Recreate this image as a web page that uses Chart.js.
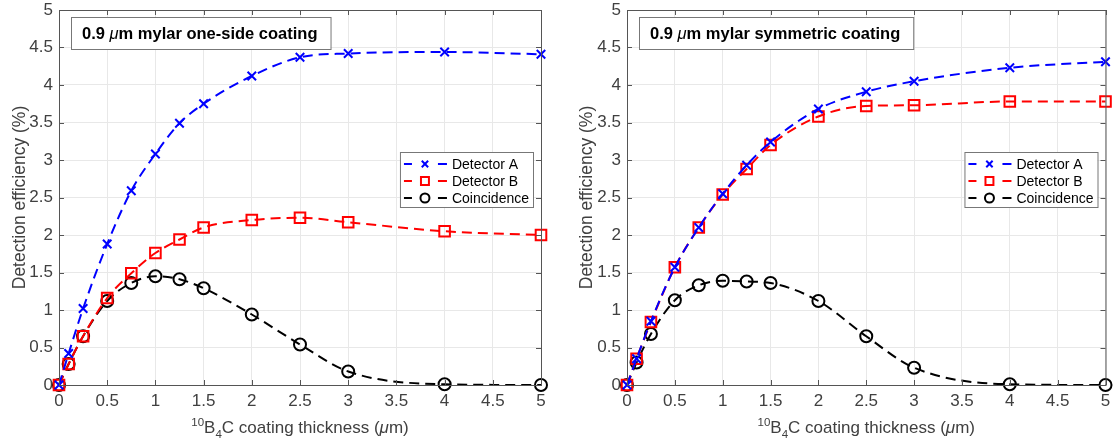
<!DOCTYPE html>
<html>
<head>
<meta charset="utf-8">
<script src="https://cdn.jsdelivr.net/npm/chart.js@4.4.1/dist/chart.umd.min.js"></script>
<style>
  html, body { margin:0; padding:0; background:#fff; }
  .panel { position:absolute; top:0; height:444px; }
  #pL { left:0; width:560px; }
  #pR { left:560px; width:555px; }
</style>
</head>
<body>
<div class="panel" id="pL"><canvas id="cL"></canvas></div>
<div class="panel" id="pR"><canvas id="cR"></canvas></div>
<script>
// thickness of 10B4C coating (um)
const thickness = [0, 0.1, 0.25, 0.5, 0.75, 1, 1.25, 1.5, 2, 2.5, 3, 4, 5];

// one-side coating
const oneA = [0, 0.42, 1.02, 1.88, 2.59, 3.08, 3.49, 3.75, 4.12, 4.37, 4.42, 4.44, 4.41];
const oneB = [0, 0.28, 0.65, 1.16, 1.49, 1.76, 1.94, 2.10, 2.20, 2.23, 2.17, 2.05, 2.00];
const oneC = [0, 0.28, 0.65, 1.12, 1.36, 1.45, 1.41, 1.29, 0.94, 0.54, 0.18, 0.01, 0.00];

// symmetric coating
const symA = [0, 0.35, 0.85, 1.57, 2.10, 2.55, 2.93, 3.24, 3.68, 3.91, 4.05, 4.23, 4.31];
const symB = [0, 0.35, 0.84, 1.57, 2.10, 2.54, 2.88, 3.20, 3.58, 3.72, 3.73, 3.78, 3.78];
const symC = [0, 0.30, 0.68, 1.13, 1.33, 1.39, 1.38, 1.36, 1.12, 0.65, 0.23, 0.01, 0.00];

const seriesNames = ['Detector A', 'Detector B', 'Coincidence'];
const ticks = [0, 0.5, 1, 1.5, 2, 2.5, 3, 3.5, 4, 4.5, 5];

const FONT = 'Liberation Sans, Arial, sans-serif';
const TXT = '#404040';
const GRID = '#e8e8e8';
const AX = '#555';

const STY = [
  { color:'#0000ff', point:'crossRot', r:6 },
  { color:'#ff0000', point:'rect', r:7.5 },
  { color:'#000000', point:'circle', r:6 },
];

const pts = ys => thickness.map((x, i) => ({ x, y: ys[i] }));

// frame, inward ticks, title box, legend, x title with super/subscript
const decor = {
  id: 'decor',
  afterDraw(chart, args, o) {
    const { ctx, chartArea: a, scales } = chart;
    ctx.save();
    // frame + ticks
    ctx.strokeStyle = AX; ctx.lineWidth = 1;
    ctx.strokeRect(a.left + .5, a.top + .5, a.right - a.left, a.bottom - a.top);
    ctx.beginPath();
    ticks.forEach(t => {
      const x = Math.round(scales.x.getPixelForValue(t)) + .5;
      ctx.moveTo(x, a.top); ctx.lineTo(x, a.top + 5);
      ctx.moveTo(x, a.bottom); ctx.lineTo(x, a.bottom - 5);
      const y = Math.round(scales.y.getPixelForValue(t)) + .5;
      ctx.moveTo(a.left, y); ctx.lineTo(a.left + 5, y);
      ctx.moveTo(a.right, y); ctx.lineTo(a.right - 5, y);
    });
    ctx.stroke();

    // title box
    const bx = a.left + 12, by = a.top + 7;
    const bf = 'bold 16.5px ' + FONT, itf = 'italic 16.5px ' + FONT;
    ctx.font = bf;
    const p1 = '0.9 ', p3 = 'm mylar ' + o.label;
    const w1 = ctx.measureText(p1).width, w3 = ctx.measureText(p3).width;
    ctx.font = itf;
    const w2 = ctx.measureText('\u03bc').width;
    const bw = w1 + w2 + w3 + 24;
    ctx.fillStyle = '#fff';
    ctx.fillRect(bx, by, bw, 32);
    ctx.strokeStyle = '#777';
    ctx.strokeRect(bx + .5, by + .5, bw, 32);
    ctx.fillStyle = '#000';
    ctx.textBaseline = 'alphabetic';
    let tx = bx + 11, ty = by + 22;
    ctx.font = bf; ctx.fillText(p1, tx, ty); tx += w1;
    ctx.font = itf; ctx.fillText('\u03bc', tx, ty); tx += w2;
    ctx.font = bf; ctx.fillText(p3, tx, ty);

    // legend
    ctx.font = '14px ' + FONT;
    const tw = Math.max(...seriesNames.map(n => ctx.measureText(n).width));
    const lw = 52 + tw + 4, lh = 55;
    const lx = a.right - 8 - lw, ly = 152;
    ctx.fillStyle = '#fff'; ctx.fillRect(lx, ly, lw, lh);
    ctx.strokeStyle = '#777'; ctx.lineWidth = 1; ctx.strokeRect(lx + .5, ly + .5, lw, lh);
    seriesNames.forEach((n, i) => {
      const yy = ly + 12 + i * 17;
      const s = STY[i];
      ctx.strokeStyle = s.color; ctx.lineWidth = 2;
      ctx.beginPath();
      ctx.moveTo(lx + 4, yy); ctx.lineTo(lx + 12, yy);
      ctx.moveTo(lx + 38, yy); ctx.lineTo(lx + 47, yy);
      ctx.stroke();
      ctx.fillStyle = 'rgba(0,0,0,0)';
      Chart.helpers.drawPoint(ctx, { pointStyle: s.point, radius: s.r * 0.75, borderWidth: 2 }, lx + 25, yy);
      ctx.fillStyle = '#000'; ctx.textBaseline = 'middle';
      ctx.fillText(n, lx + 52, yy + 1);
    });

    // x axis title: 10B4C coating thickness (um)
    const parts = [
      { t:'10', f:'11.5px ', dy:-7 },
      { t:'B', f:'17px ', dy:0 },
      { t:'4', f:'11.5px ', dy:5 },
      { t:'C coating thickness (', f:'17px ', dy:0 },
      { t:'\u03bc', f:'italic 17px ', dy:0 },
      { t:'m)', f:'17px ', dy:0 },
    ];
    let tot = 0;
    parts.forEach(p => { ctx.font = p.f + FONT; p.w = ctx.measureText(p.t).width; tot += p.w; });
    let xx = (a.left + a.right) / 2 - tot / 2;
    ctx.fillStyle = TXT; ctx.textBaseline = 'alphabetic';
    parts.forEach(p => { ctx.font = p.f + FONT; ctx.fillText(p.t, xx, 433 + p.dy); xx += p.w; });
    ctx.restore();
  }
};

function panel(canvasId, label, ys, padLeft, yw, rightPad) {
  const ctx = document.getElementById(canvasId).getContext('2d');
  return new Chart(ctx, {
    type: 'line',
    data: { datasets: ys.map((d, i) => ({
      label: seriesNames[i],
      data: pts(d),
      borderColor: STY[i].color, backgroundColor: 'transparent',
      borderWidth: 2, borderDash: [10, 6],
      cubicInterpolationMode: 'monotone',
      pointStyle: STY[i].point, pointRadius: STY[i].r,
      pointBorderColor: STY[i].color, pointBackgroundColor: 'transparent',
      pointBorderWidth: 2, clip: 10,
    }))},
    options: {
      responsive:true, maintainAspectRatio:false, animation:false,
      layout: { padding: { top:10, right:rightPad, left:padLeft, bottom:0 } },
      plugins: { legend:{ display:false }, tooltip:{ enabled:false }, decor:{ label } },
      scales: {
        x: {
          type:'linear', min:0, max:5,
          afterBuildTicks: s => { s.ticks = ticks.map(v => ({ value:v })); },
          afterFit: s => { s.height = 59; s.paddingLeft = 0; s.paddingRight = 0; },
          ticks: { color:TXT, font:{ size:17, family:FONT }, padding:6, maxRotation:0,
                   callback: v => String(v) },
          grid: { color:GRID, tickLength:0 },
          border: { display:false },
        },
        y: {
          min:0, max:5,
          afterBuildTicks: s => { s.ticks = ticks.map(v => ({ value:v })); },
          afterFit: s => { s.width = yw; s.paddingTop = 0; s.paddingBottom = 0; },
          ticks: { color:TXT, font:{ size:17, family:FONT }, padding:6,
                   callback: v => String(v) },
          grid: { color:GRID, tickLength:0 },
          border: { display:false },
          title: { display:true, text:'Detection efficiency (%)', color:TXT,
                   font:{ size:17.5, family:FONT }, padding:{ top:0, bottom:0 } },
        },
      },
    },
    plugins: [decor],
  });
}

panel('cL', 'one-side coating', [oneA, oneB, oneC], 10, 49, 19);
panel('cR', 'symmetric coating', [symA, symB, symC], 17, 50, 5);
</script>
</body>
</html>
